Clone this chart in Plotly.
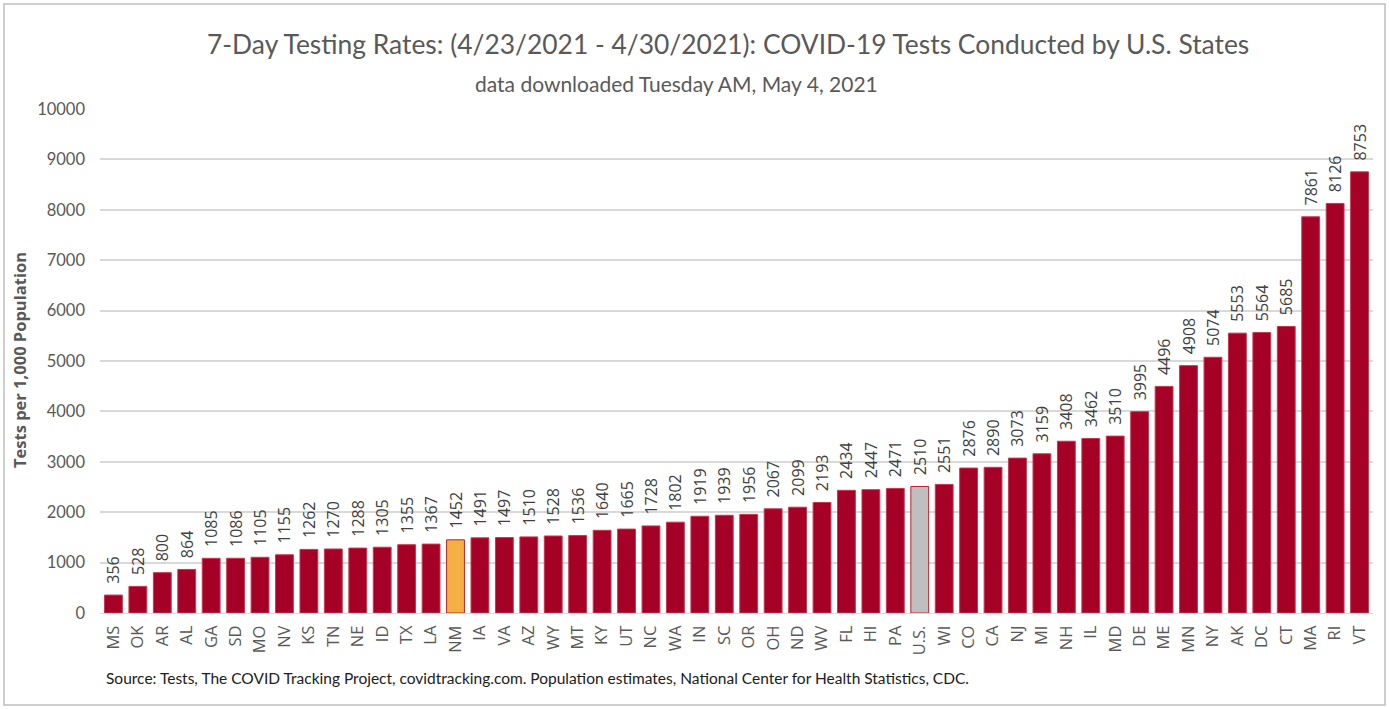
import plotly.graph_objects as go

states = ["MS","OK","AR","AL","GA","SD","MO","NV","KS","TN","NE","ID","TX","LA","NM",
          "IA","VA","AZ","WY","MT","KY","UT","NC","WA","IN","SC","OR","OH","ND","WV",
          "FL","HI","PA","U.S.","WI","CO","CA","NJ","MI","NH","IL","MD","DE","ME","MN",
          "NY","AK","DC","CT","MA","RI","VT"]
rates = [356,528,800,864,1085,1086,1105,1155,1262,1270,1288,1305,1355,1367,1452,
         1491,1497,1510,1528,1536,1640,1665,1728,1802,1919,1939,1956,2067,2099,2193,
         2434,2447,2471,2510,2551,2876,2890,3073,3159,3408,3462,3510,3995,4496,4908,
         5074,5553,5564,5685,7861,8126,8753]
y_ticks = [0,1000,2000,3000,4000,5000,6000,7000,8000,9000,10000]

RED = "#A50026"
colors = ["#F4B043" if s == "NM" else ("#BFBFBF" if s == "U.S." else RED) for s in states]
lines = ["#C0202F" if s in ("NM", "U.S.") else "#C8384F" for s in states]

W, H = 1389, 709
L, R, T, B = 100, 16, 109, 96
pw, ph = W - L - R, H - T - B

def px(x):
    return (x - L) / pw

def py(y):
    return (H - B - y) / ph

fig = go.Figure(go.Bar(
    x=states, y=rates,
    marker=dict(color=colors, line=dict(color=lines, width=1)),
    text=["\u00a0\u00a0" + str(v) for v in rates], textposition="outside", textangle=-90,
    textfont=dict(family="Open Sans, DejaVu Sans", size=16, color="#404040"),
    cliponaxis=False, constraintext="none",
))

fig.update_layout(
    width=W, height=H,
    margin=dict(l=L, r=R, t=T, b=B),
    paper_bgcolor="white", plot_bgcolor="white",
    bargap=0.27, showlegend=False,
    font=dict(family="Lato, Open Sans", color="#595959"),
    xaxis=dict(tickangle=-90, tickfont=dict(family="Open Sans, DejaVu Sans", size=16.5, color="#595959"),
               showline=True, linecolor="#D9D9D9", linewidth=1, ticks="", showgrid=False,
               ticklabelstandoff=5,
               range=[-0.55, len(states) - 0.45]),
    yaxis=dict(range=[0, 10000], tickvals=y_ticks, ticks="", tickformat="d",
               tickfont=dict(family="Lato, Open Sans", size=16.5, color="#595959"),
               ticklabelstandoff=14,
               showgrid=True, gridcolor="#D9D9D9", gridwidth=1.5, zeroline=False),
    annotations=[
        dict(text="7-Day Testing Rates: (4/23/2021 - 4/30/2021): COVID-19 Tests Conducted by U.S. States",
             x=px(728), y=py(44), xref="paper", yref="paper", showarrow=False,
             xanchor="center", yanchor="middle",
             font=dict(family="Lato", size=26.4, color="#595959")),
        dict(text="data downloaded Tuesday AM, May 4, 2021",
             x=px(676), y=py(84), xref="paper", yref="paper", showarrow=False,
             xanchor="center", yanchor="middle",
             font=dict(family="Lato", size=21, color="#595959")),
        dict(text="<b>Tests per 1,000 Population</b>",
             x=px(19), y=py(360), xref="paper", yref="paper", showarrow=False,
             xanchor="center", yanchor="middle", textangle=-90,
             font=dict(family="Open Sans, DejaVu Sans", size=16.5, color="#595959")),
        dict(text="Source: Tests, The COVID Tracking Project, covidtracking.com. Population estimates, National Center for Health Statistics, CDC.",
             x=px(104), y=py(678), xref="paper", yref="paper", showarrow=False,
             xanchor="left", yanchor="middle",
             font=dict(family="Lato", size=15.5, color="#202020")),
    ],
    shapes=[dict(type="rect", xref="paper", yref="paper",
                 x0=px(4), x1=px(1385), y0=py(705), y1=py(4),
                 line=dict(color="#BFBFBF", width=1.5), layer="below")],
)

fig.write_html("out.html", config={"displayModeBar": False},
               post_script="document.body.style.margin='0';")
